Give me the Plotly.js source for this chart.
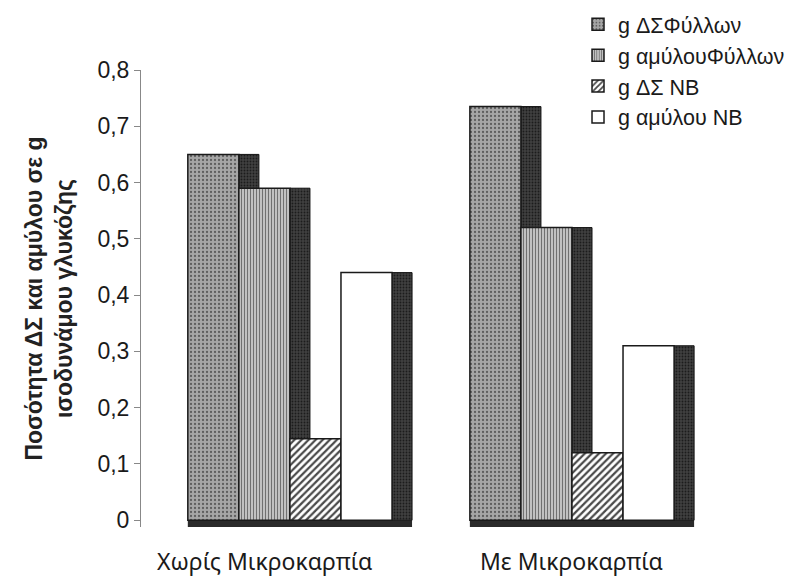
<!DOCTYPE html>
<html><head><meta charset="utf-8">
<script src="https://cdn.plot.ly/plotly-3.0.1.min.js"></script>
<style>html,body{margin:0;padding:0;background:#fff}#chart{width:805px;height:580px}</style>
</head><body><div id="chart"></div>
<script>
const categories = ['Χωρίς Μικροκαρπία', 'Με Μικροκαρπία'];
const seriesNames = ['g ΔΣΦύλλων', 'g αμύλουΦύλλων', 'g ΔΣ NB', 'g αμύλου NB'];
const dsLeaves = [0.65, 0.735];
const starchLeaves = [0.59, 0.52];
const dsNB = [0.145, 0.12];
const starchNB = [0.44, 0.31];
const yTickVals = [0, 0.1, 0.2, 0.3, 0.4, 0.5, 0.6, 0.7, 0.8];
const yTickText = ['0', '0,1', '0,2', '0,3', '0,4', '0,5', '0,6', '0,7', '0,8'];

const series = [dsLeaves, starchLeaves, dsNB, starchNB];
const W = 0.181, D = 0.071, START = -0.362;
const styles = [
  {color: '#9c9c9c', pattern: {shape: '.', fgcolor: '#5e5e5e', bgcolor: '#a6a6a6', size: 4, solidity: 0.25}},
  {color: '#c0c0c0', pattern: {shape: '|', fgcolor: '#707070', bgcolor: '#d2d2d2', size: 3, solidity: 0.45}},
  {color: '#ffffff', pattern: {shape: '/', fgcolor: '#4a4a4a', bgcolor: '#ffffff', size: 5, solidity: 0.45}},
  {color: '#ffffff'}
];

const traces = [];
// floor slab
traces.push({type: 'bar', x: categories, y: categories.map(() => 0.012), base: categories.map(() => -0.012),
  offset: START, width: 4 * W + D, marker: {color: '#2a2a2a', line: {width: 0}},
  showlegend: false, hoverinfo: 'skip'});
// side faces
series.forEach((vals, i) => {
  traces.push({type: 'bar', x: categories, y: vals, offset: START + (i + 1) * W, width: D,
    marker: {color: '#3c3c3c', pattern: {shape: '.', fgcolor: '#1c1c1c', bgcolor: '#404040', size: 3, solidity: 0.3},
      line: {color: '#111', width: 1}},
    showlegend: false, hoverinfo: 'skip'});
});
// front faces
series.forEach((vals, i) => {
  const m = {color: styles[i].color, line: {color: '#1a1a1a', width: 1.5}};
  if (styles[i].pattern) m.pattern = styles[i].pattern;
  traces.push({type: 'bar', name: seriesNames[i], x: categories, y: vals, offset: START + i * W, width: W,
    marker: m, legendgroup: 'g' + i});
});

const layout = {
  width: 805, height: 580,
  margin: {l: 141, r: 92, t: 70, b: 53, autoexpand: false},
  paper_bgcolor: '#ffffff', plot_bgcolor: '#ffffff',
  barmode: 'overlay',
  font: {family: 'Liberation Sans, Arial, sans-serif', color: '#222'},
  showlegend: true,
  legend: {x: 0.764, y: 1.145, xanchor: 'left', yanchor: 'top', bgcolor: 'rgba(0,0,0,0)',
    font: {size: 21.5, family: 'Liberation Sans, Arial, sans-serif', color: '#1a1a1a'},
    tracegroupgap: 1, itemwidth: 30, traceorder: 'normal'},
  xaxis: {type: 'category', range: [-0.528, 1.5], showticklabels: false, showgrid: false,
    zeroline: false, showline: false, ticks: ''},
  yaxis: {range: [-0.012, 0.8], tickvals: yTickVals, ticktext: yTickText, showgrid: false,
    zeroline: false, showline: true, linecolor: '#888', linewidth: 1, ticks: 'outside', ticklen: 6,
    tickcolor: '#888', tickfont: {size: 23, color: '#1a1a1a'},
    title: {text: 'Ποσότητα ΔΣ και αμύλου σε g<br>ισοδυνάμου γλυκόζης', standoff: 18,
      font: {size: 23, color: '#222', family: 'Liberation Sans, Arial, sans-serif', weight: 'bold'}}},
  annotations: [
    {x: categories[0], y: 0, xref: 'x', yref: 'paper', yanchor: 'middle', xshift: -25, yshift: -34,
     text: categories[0], showarrow: false, font: {size: 23, family: 'Noto Sans, sans-serif', color: '#1a1a1a'}},
    {x: categories[1], y: 0, xref: 'x', yref: 'paper', yanchor: 'middle', xshift: 0, yshift: -34,
     text: categories[1], showarrow: false, font: {size: 23, family: 'Noto Sans, sans-serif', color: '#1a1a1a'}}
  ]
};
Plotly.newPlot('chart', traces, layout, {displayModeBar: false, staticPlot: true});
</script></body></html>
